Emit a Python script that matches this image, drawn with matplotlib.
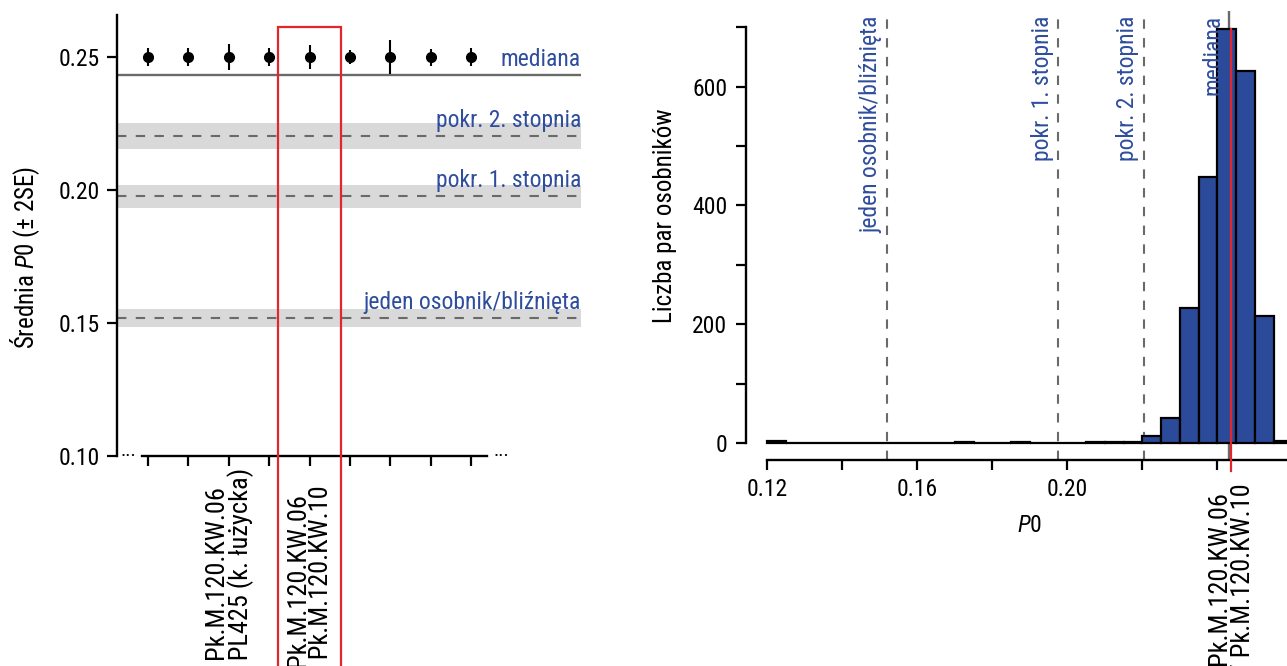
import numpy as np
import matplotlib
matplotlib.use('Agg')
import matplotlib.pyplot as plt
from matplotlib.patches import Rectangle

plt.rcParams['font.family'] = ['Roboto Condensed', 'Liberation Sans', 'DejaVu Sans']
plt.rcParams['font.size'] = 17
plt.rcParams['mathtext.fontset'] = 'custom'
plt.rcParams['mathtext.rm'] = 'Roboto Condensed'
plt.rcParams['mathtext.it'] = 'Roboto Condensed:italic'

# ---- data ----
pair_pos = [1, 2, 3, 4, 5, 6, 7, 8, 9]
pair_mean = [0.25, 0.25, 0.25, 0.25, 0.25, 0.25, 0.25, 0.25, 0.25]
pair_2se = [0.0033, 0.0033, 0.0048, 0.0034, 0.0044, 0.0028, 0.0065, 0.0032, 0.0034]
highlight_pos = 5
lab_a = 'Pk.M.120.KW.06\n/ PL425 (k. łużycka)'
lab_b = 'Pk.M.120.KW.06\n/ Pk.M.120.KW.10'

ref_names = ['mediana', 'pokr. 2. stopnia', 'pokr. 1. stopnia', 'jeden osobnik/bliźnięta']
ref_values = [0.2432, 0.2203, 0.1976, 0.1518]
ref_band = [0.0, 0.0048, 0.0042, 0.0033]

bin_start = 0.12
bin_width = 0.005
counts = [3, 0, 0, 0, 0, 0, 0, 0, 0, 0, 1, 0, 0, 1, 0, 0, 0, 1, 1, 1,
          12, 42, 227, 447, 697, 626, 214, 4]
highlight_value = 0.2436

blue = '#2E4D9C'
bar_blue = '#2B4A99'
red = '#E3262B'
grey = '#6A6A6A'
band = '#D9D9D9'
lab_size = 19

W, H = 1287, 666
def px_box(l, t, r, b):
    return [l / W, 1 - b / H, (r - l) / W, (b - t) / H]

fig = plt.figure(figsize=(W / 100, H / 100), dpi=100)

# ================= left panel =================
ax1 = fig.add_axes(px_box(117, 15, 581, 456))
ax1.set_xlim(0.233, 11.718)
ax1.set_ylim(0.10, 0.2658)
for s in ['top', 'right']:
    ax1.spines[s].set_visible(False)
ax1.spines['left'].set_linewidth(1.7)
ax1.spines['bottom'].set_linewidth(1.7)
ax1.spines['bottom'].set_bounds(0.844, 9.384)

for v, b in zip(ref_values[1:], ref_band[1:]):
    ax1.axhspan(v - b, v + b, color=band, lw=0, zorder=0)
    ax1.axhline(v, color=grey, lw=1.5, ls=(0, (4.5, 4.5)), zorder=1)
ax1.axhline(ref_values[0], color=grey, lw=1.7, zorder=1)

for name, v in zip(ref_names, ref_values):
    ax1.annotate(name, xy=(1.0, v), xycoords=ax1.get_yaxis_transform(),
                 xytext=(0, 6.5), textcoords='offset points',
                 ha='right', va='baseline', color=blue)

ax1.errorbar(pair_pos, pair_mean, yerr=pair_2se, fmt='o', color='black',
             ms=7, elinewidth=1.5, capsize=0, zorder=3)

ax1.set_yticks([0.10, 0.15, 0.20, 0.25])
ax1.set_yticklabels(['0.10', '0.15', '0.20', '0.25'])
ax1.set_xticks(pair_pos)
ax1.set_xticklabels([])
ax1.tick_params(axis='both', length=7.5, width=1.6, pad=5, labelsize=17)
ax1.xaxis.get_major_ticks()[highlight_pos - 1].tick1line.set_color(red)

ax1.text(0.53, 0.10, '...', ha='center', va='baseline', fontsize=14)
ax1.text(9.75, 0.10, '...', ha='center', va='baseline', fontsize=14)

ax1.annotate(lab_a, xy=(3, 0.10), xytext=(0, -8.6), textcoords='offset points',
             rotation=90, ha='center', va='top', multialignment='center',
             linespacing=0.97, fontsize=lab_size)
ax1.annotate(lab_b, xy=(highlight_pos, 0.10), xytext=(0, -21), textcoords='offset points',
             rotation=90, ha='center', va='top', multialignment='center',
             linespacing=0.97, fontsize=lab_size)

ax1.add_patch(Rectangle((highlight_pos - 0.78, 0.0), 1.56, 0.2613, fill=False,
                        ec=red, lw=1.6, clip_on=False, zorder=5))

fig.text(25 / W, 1 - 257 / H, 'Średnia $\\mathit{P0}$ (± 2SE)', rotation=90,
         ha='center', va='center', fontsize=18)

# ================= right panel =================
ax2 = fig.add_axes(px_box(746, 10.6, 746 + 567, 459.6))
ax2.set_xlim(0.1143, 0.2655)
ax2.set_ylim(-28, 728)
for s in ['top', 'right']:
    ax2.spines[s].set_visible(False)
ax2.spines['left'].set_linewidth(1.7)
ax2.spines['bottom'].set_linewidth(1.7)
ax2.spines['left'].set_bounds(0, 700)
ax2.spines['bottom'].set_bounds(0.12, 0.26)

lefts = bin_start + bin_width * np.arange(len(counts))
ax2.bar(lefts, counts, width=bin_width, align='edge', color=bar_blue,
        edgecolor='black', lw=1.6, zorder=2)

for v in ref_values[1:]:
    ax2.axvline(v, color=grey, lw=1.5, ls=(0, (4.5, 4.5)), zorder=1)
ax2.axvline(ref_values[0], color=grey, lw=1.7, zorder=1)
ax2.plot([highlight_value, highlight_value], [-47, max(counts)], color=red,
         lw=1.6, clip_on=False, zorder=4)

for name, v in zip(ref_names, ref_values):
    ax2.annotate(name, xy=(v, 720), xytext=(-7, 0), textcoords='offset points',
                 rotation=90, rotation_mode='anchor', ha='right', va='baseline',
                 color=blue)

ax2.set_yticks(range(0, 701, 100))
ax2.set_yticklabels(['0', '', '200', '', '400', '', '600', ''])
xt = np.arange(0.12, 0.2601, 0.02)
ax2.set_xticks(xt)
ax2.set_xticklabels(['0.12', '', '0.16', '', '0.20', '', '', ''])
ax2.tick_params(axis='both', length=7.5, width=1.6, pad=6, labelsize=17)

ax2.annotate(lab_b, xy=(highlight_value, -28), xytext=(0, -17.3), textcoords='offset points',
             rotation=90, ha='center', va='top', multialignment='center',
             linespacing=0.97, fontsize=lab_size)

fig.text(665 / W, 1 - 216 / H, 'Liczba par osobników', rotation=90,
         ha='center', va='center', fontsize=18)
fig.text(1030 / W, 1 - 525 / H, '$\\mathit{P0}$', ha='center', va='center')

fig.savefig('out.png', dpi=100)
